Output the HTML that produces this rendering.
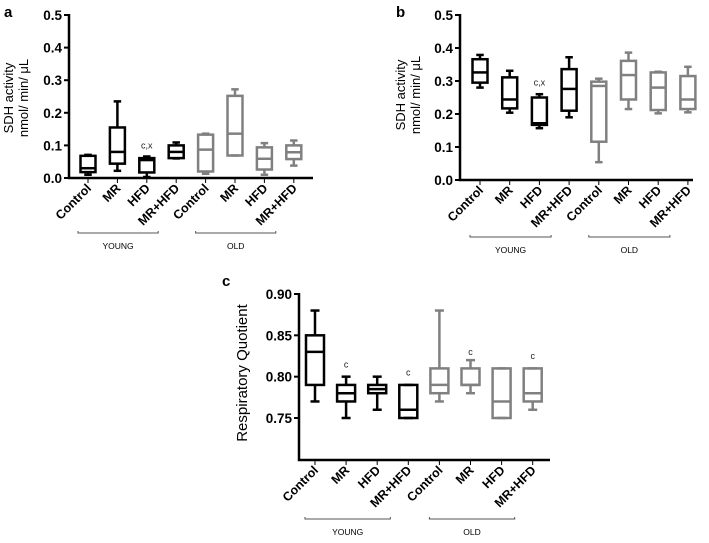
<!DOCTYPE html>
<html><head><meta charset="utf-8"><style>
body{margin:0;background:#fff;}
svg{display:block;font-family:"Liberation Sans",Arial,sans-serif;}
</style></head><body>
<svg id="fig" width="709" height="543" viewBox="0 0 709 543"></svg>
<script>
const categories=["Control","MR","HFD","MR+HFD","Control","MR","HFD","MR+HFD"];
// [min,q1,median,q3,max]
const sdhA=[[0.01,0.018,0.03,0.068,0.071],[0.022,0.044,0.08,0.155,0.235],[0.003,0.017,0.055,0.061,0.066],[0.06,0.061,0.08,0.1,0.109],
[0.013,0.02,0.087,0.133,0.136],[0.069,0.069,0.136,0.252,0.272],[0.01,0.026,0.059,0.094,0.107],[0.038,0.058,0.079,0.1,0.115]];
const sdhB=[[0.28,0.295,0.326,0.366,0.379],[0.204,0.217,0.244,0.311,0.331],[0.157,0.167,0.172,0.25,0.26],[0.19,0.21,0.276,0.336,0.372],
[0.054,0.116,0.285,0.298,0.307],[0.215,0.244,0.318,0.361,0.386],[0.202,0.212,0.28,0.326,0.328],[0.205,0.215,0.244,0.315,0.343]];
const rqC=[[0.77,0.79,0.83,0.85,0.88],[0.75,0.77,0.78,0.79,0.80],[0.76,0.78,0.785,0.79,0.80],[0.75,0.75,0.76,0.79,0.79],
[0.77,0.78,0.79,0.81,0.88],[0.78,0.79,0.79,0.81,0.82],[0.75,0.75,0.77,0.81,0.81],[0.76,0.77,0.78,0.81,0.81]];
const annA=[null,null,["c,x",0.1],null,null,null,null,null];
const annB=[null,null,["c,x",0.295],null,null,null,null,null];
const annC=[null,["c",0.815],null,["c",0.805],null,["c",0.83],null,["c",0.825]];
const ticksAB=[0,0.1,0.2,0.3,0.4,0.5];
const ticksC=[0.75,0.80,0.85,0.90];

const svg=document.getElementById('fig');
const NS="http://www.w3.org/2000/svg";
function mk(tag,attrs,parent,text){const e=document.createElementNS(NS,tag);for(const k in attrs)e.setAttribute(k,attrs[k]);if(text!==undefined)e.textContent=text;(parent||svg).appendChild(e);return e;}

function panel(p){
  const g=mk('g',{});
  
  
  const y=v=>p.y0+(v-p.vmin)/(p.vmax-p.vmin)*(p.y1-p.y0);
  const x=i=>p.xs+i*p.dx;
  const lbl=mk('text',{x:p.lx,y:p.ly,'font-size':15,'font-weight':'bold'},g,p.letter);
  
  
  const ax=mk('path',{d:`M${p.ax} ${p.ytop} V${p.y0} H${p.axEnd}`,stroke:'#000','stroke-width':2.5,fill:'none'},g);
  
  
  p.ticks.forEach(t=>{
    mk('line',{x1:p.ax-5,x2:p.ax,y1:y(t),y2:y(t),stroke:'#000','stroke-width':2},g);
    const tl=mk('text',{x:p.ax-7,y:y(t)+5,'font-size':13.5,'font-weight':'bold','text-anchor':'end'},g,t.toFixed(p.dec));
    
    
  });
  const yt=mk('text',{transform:`translate(${p.ytx},${p.yty}) rotate(-90)`,'font-size':p.yfs,'text-anchor':'middle'},g);
  
  
  p.ytitle.forEach((s,k)=>mk('tspan',{x:0,dy:k?15:0},yt,s));
  p.data.forEach((d,i)=>{
    const c=i<4?'#000':'#808080';const cx=x(i);const w=p.bw/2;
    const b=mk('g',{stroke:c,'stroke-width':2.5,fill:'none'},g);
    
    
    mk('line',{x1:cx,x2:cx,y1:y(d[4]),y2:y(d[3])},b);
    mk('line',{x1:cx,x2:cx,y1:y(d[1]),y2:y(d[0])},b);
    mk('line',{x1:cx-w/2,x2:cx+w/2,y1:y(d[4]),y2:y(d[4])},b);
    mk('line',{x1:cx-w/2,x2:cx+w/2,y1:y(d[0]),y2:y(d[0])},b);
    mk('rect',{x:cx-w,y:y(d[3]),width:2*w,height:Math.max(0.5,y(d[1])-y(d[3]))},b);
    mk('line',{x1:cx-w,x2:cx+w,y1:y(d[2]),y2:y(d[2])},b);
    mk('line',{x1:cx,x2:cx,y1:p.y0,y2:p.y0+5,stroke:'#000'},g);
    const tl=mk('text',{transform:`translate(${cx+4},${p.y0+11}) rotate(-45)`,'font-size':12.5,'font-weight':'bold','text-anchor':'end'},g,categories[i]);
    
    
    const a=p.ann[i];
    if(a){const at=mk('text',{x:cx,y:y(a[1])+3,'font-size':9,'text-anchor':'middle',fill:'#222'},g,a[0]);
      
      }
  });
  [['YOUNG',0],['OLD',4]].forEach(([t,s])=>{
    const x1=x(s)-10,x2=x(s+3)-18;
    const br=mk('path',{d:`M${x1} ${p.by-2} V${p.by} H${x2} V${p.by-2}`,stroke:'#555','stroke-width':1,fill:'none'},g);
    
    
    const gt=mk('text',{x:(x1+x2)/2,y:p.by+16,'font-size':8.5,'text-anchor':'middle'},g,t);
    
    
  });
}
panel({name:'panel-a',letter:'a',lx:4,ly:17,data:sdhA,ann:annA,ticks:ticksAB,dec:1,vmin:0,vmax:0.5,y0:178,y1:15,ytop:14,ax:69,axEnd:313,xs:88,dx:29.4,bw:15,ytx:13,yty:98,yfs:13,ytitle:['SDH activity','nmol/ min/ μL'],by:233});
panel({name:'panel-b',letter:'b',lx:396,ly:17,data:sdhB,ann:annB,ticks:ticksAB,dec:1,vmin:0,vmax:0.5,y0:180,y1:15,ytop:14,ax:460,axEnd:693,xs:480,dx:29.7,bw:15,ytx:405,yty:95,yfs:13,ytitle:['SDH activity','nmol/ min/ μL'],by:237});
panel({name:'panel-c',letter:'c',lx:222,ly:286,data:rqC,ann:annC,ticks:ticksC,dec:2,vmin:0.6992,vmax:0.90,y0:460,y1:294,ytop:293,ax:299,axEnd:550,xs:315,dx:31.1,bw:18,ytx:247,yty:373,yfs:15,ytitle:['Respiratory Quotient'],by:519});
</script>
</body></html>
